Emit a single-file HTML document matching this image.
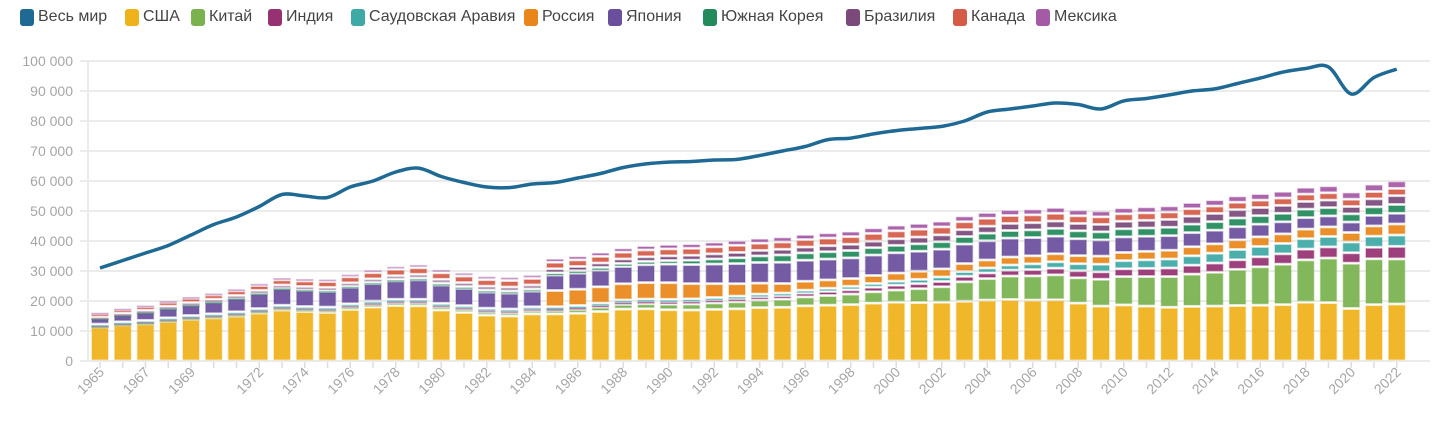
<!DOCTYPE html>
<html><head><meta charset="utf-8"><style>
body{margin:0;background:#fff;width:1443px;height:428px;overflow:hidden;font-family:"Liberation Sans",sans-serif}
.lg{position:absolute;top:8px;font-size:16px;color:#444;white-space:nowrap;display:flex;align-items:center}
.lg i{display:inline-block;width:14px;height:17px;border-radius:3px;margin-right:4px}
</style></head><body>
<div id="leg"></div>
<svg id="c" width="1443" height="428" style="position:absolute;left:0;top:0"></svg>
<script>
const names=["Весь мир","США","Китай","Индия","Саудовская Аравия","Россия","Япония","Южная Корея","Бразилия","Канада","Мексика"];
const cols=["#1f6a94","#f0b21b","#7ab24f","#963272","#3fa9a5","#e8861a","#6a4f9d","#228a5b","#7b4a7b","#d55b47","#a55aa5"];
const lx=[20,125,191,268,351,524,608,703,846,953,1036];
let L="";names.forEach((n,i)=>{L+=`<div class="lg" style="left:${lx[i]}px"><i style="background:${cols[i]}"></i>${n}</div>`});
document.getElementById("leg").innerHTML=L;
function interp(pts,y){const ks=Object.keys(pts).map(Number).sort((a,b)=>a-b);if(y<=ks[0])return pts[ks[0]];if(y>=ks[ks.length-1])return pts[ks[ks.length-1]];for(let i=0;i<ks.length-1;i++){if(y>=ks[i]&&y<=ks[i+1]){const t=(y-ks[i])/(ks[i+1]-ks[i]);return pts[ks[i]]+(pts[ks[i+1]]-pts[ks[i]])*t}}}
const usa=[11.3,12,12.4,13.2,13.9,14.4,15,16,17,16.5,16.2,17.2,18,18.5,18.4,17,16.2,15.3,15,15.7,15.7,15.9,16.5,17.3,17.4,17.1,17,17.2,17.4,17.8,17.9,18.4,18.6,18.8,19.3,19.6,19.5,19.6,19.9,20.3,20.5,20.3,20.4,19.3,18.3,18.7,18.3,17.9,18.2,18.3,18.5,18.6,18.8,19.6,19.5,17.5,18.8,19];
const S=[
{1965:.4,1975:.7,1985:1,1990:1.5,1995:2.2,2000:3.3,2002:4.3,2003:5.5,2005:6.8,2007:7.4,2008:7.6,2010:8.7,2012:9.5,2014:10.5,2016:12,2018:13.3,2019:14,2020:14.3,2021:14.5,2022:14.3},
{1965:.3,1985:.6,1995:1,2000:1.3,2005:1.7,2010:2.4,2015:3,2019:3.5,2020:3.3,2022:4},
{1965:.2,1985:.4,1995:.7,2000:1.1,2005:1.5,2010:2.5,2015:3.2,2019:3.3,2022:3.6},
{1984:0,1985:4.5,1988:4.5,1990:4.6,1993:3.4,1995:2.6,1998:2.1,2000:2.2,2005:2.3,2010:2.5,2015:3,2020:3,2022:3.5},
{1965:1.8,1970:3.5,1973:4.8,1975:4.3,1979:5,1982:4.3,1985:4.3,1990:5.1,1995:5.8,2000:5.5,2005:5.5,2010:4.8,2015:4.1,2020:3.3,2022:3.4},
{1965:.1,1985:.6,1990:1,1995:2,2000:2,2005:2.2,2010:2.5,2015:2.7,2020:2.6,2022:2.8},
{1965:.3,1980:1,1990:1.3,2000:1.8,2010:2.3,2015:2.6,2020:2.3,2022:2.8},
{1965:1,1975:1.6,1985:1.8,1995:2,2005:2.3,2015:2.3,2022:2.3},
{1965:.5,1985:1.1,1995:1.4,2005:1.7,2015:2,2022:2.4}];
const scale={1965:1.1,1972:1.15,1979:1.3,1985:1.2,2000:1.23,2005:1.15,2010:1.085,2022:1.05};
const world=[31,33.5,36,38.5,42,45.5,48,51.5,55.5,55,54.5,58,60,63,64.3,61.5,59.5,58,57.8,59,59.5,61,62.5,64.5,65.7,66.3,66.5,67,67.2,68.5,70,71.5,73.8,74.3,75.7,76.8,77.5,78.2,80,83,84,85,86,85.5,84,86.7,87.5,88.7,90,90.7,92.5,94.3,96.3,97.5,98,89,94.5,97.3];
const Y=v=>361-3*v, X=i=>100+i*22.75;
let g="";
for(let k=0;k<=10;k++){const y=Y(k*10);g+=`<line x1="80" x2="1430" y1="${y}" y2="${y}" stroke="#ebebeb" stroke-width="2"/>`;
g+=`<text x="73" y="${y+5}" text-anchor="end" font-size="14" fill="#a6a6a6">${k==0?"0":(k*10)+" 000"}</text>`}
g+=`<line x1="88" x2="88" y1="61" y2="361" stroke="#ebebeb" stroke-width="2"/>`;
for(let i=0;i<58;i++){const yr=1965+i,x=X(i),sc=interp(scale,yr);
 g+=`<line x1="${x}" x2="${x}" y1="362" y2="368" stroke="#ddd" stroke-width="1.5"/>`;
 let base=0;const vals=[usa[i]].concat(S.map(p=>interp(p,yr)*sc));
 vals.forEach((v,j)=>{if(v<=0.05)return;const y1=Y(base+v),y0=Y(base);base+=v;
  let op=(yr<1985&&j!=0&&j!=5&&j!=8)?0.45:0.93;
  g+=`<rect x="${x-8}" y="${y1+1.5}" width="16" height="${Math.max(y0-y1-3,0.6)}" fill="${cols[j+1]}" fill-opacity="${op}" stroke="${cols[j+1]}" stroke-opacity="0.35" stroke-width="1.5"/>`});
}
const lab=[1965,1967,1969,1972,1974,1976,1978,1980,1982,1984,1986,1988,1990,1992,1994,1996,1998,2000,2002,2004,2006,2008,2010,2012,2014,2016,2018,2020,2022];
lab.forEach(yr=>{const x=X(yr-1965)+5;g+=`<text transform="translate(${x},373) rotate(-45)" text-anchor="end" font-size="14" fill="#a6a6a6">${yr}</text>`});
const P=world.map((v,i)=>[X(i),Y(v)]);
let d=`M${P[0][0]},${P[0][1]}`;
for(let i=0;i<P.length-1;i++){const p0=P[Math.max(i-1,0)],p1=P[i],p2=P[i+1],p3=P[Math.min(i+2,P.length-1)];
 d+=` C${p1[0]+(p2[0]-p0[0])/6},${p1[1]+(p2[1]-p0[1])/6} ${p2[0]-(p3[0]-p1[0])/6},${p2[1]-(p3[1]-p1[1])/6} ${p2[0]},${p2[1]}`}
g+=`<path d="${d}" fill="none" stroke="${cols[0]}" stroke-width="3.5"/>`;
document.getElementById("c").innerHTML=g;
</script>
</body></html>
